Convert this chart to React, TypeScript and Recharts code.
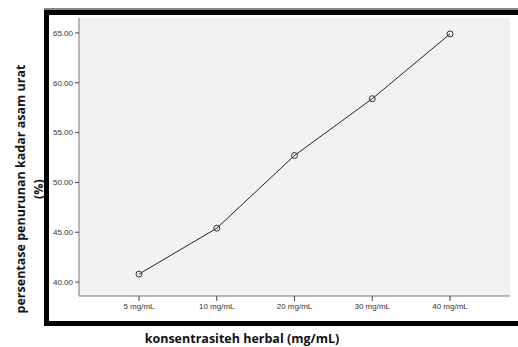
import React from 'react';
import { LineChart, Line, XAxis, YAxis, CartesianGrid, Label } from 'recharts';

const categories = ['5 mg/mL', '10 mg/mL', '20 mg/mL', '30 mg/mL', '40 mg/mL'];
const values = [40.8, 45.4, 52.7, 58.4, 64.9];
const yTicks = [40, 45, 50, 55, 60, 65];

const data = categories.map((c, i) => ({ name: c, value: values[i] }));

const tickStyle = { fontSize: 8, fill: '#333', fontFamily: '"Liberation Sans", Arial, sans-serif' };
const labelFont = '"Open Sans", Lato, sans-serif';

const YLabel = (props: any) => {
  const { viewBox } = props;
  const cy = viewBox.y + viewBox.height / 2 + 32;
  return (
    <g fontFamily={labelFont} fontWeight="bold" fontSize={12.5} fill="#111" textAnchor="middle">
      <text x={20} y={cy} transform={`rotate(-90 20 ${cy})`} dominantBaseline="central">
        persentase penurunan kadar asam urat
      </text>
      <text x={38} y={cy} transform={`rotate(-90 38 ${cy})`} dominantBaseline="central">
        (%)
      </text>
    </g>
  );
};

const XLabel = () => {
  return (
    <text x={242} y={338} textAnchor="middle" dominantBaseline="central"
      fontFamily={labelFont} fontWeight="bold" fontSize={12.5} fill="#111">
      konsentrasiteh herbal (mg/mL)
    </text>
  );
};

// thick black frame around the chart panel
const Frame = () => (
  <svg width={518} height={347} style={{ position: 'absolute', left: 0, top: 0, pointerEvents: 'none' }}>
    <rect x={44} y={8} width={474} height={2} fill="#888" />
    <rect x={44} y={10} width={474} height={5} fill="#000" />
    <rect x={44} y={10} width={5} height={316} fill="#000" />
    <rect x={44} y={321} width={474} height={5} fill="#000" />
  </svg>
);

const App = () => {
  return (
    <div style={{ position: 'absolute', left: 0, top: 0, width: 518, height: 347, background: '#fff' }}>
      <LineChart width={518} height={347} data={data} margin={{ top: 18, right: 8, left: 0, bottom: 0 }}>
        <CartesianGrid horizontal={false} vertical={false} fill="#f1f2f2" />
        <XAxis
          dataKey="name"
          scale="point"
          padding={{ left: 60, right: 60 }}
          height={51}
          tick={tickStyle}
          tickLine={{ stroke: '#444' }}
          tickSize={5}
          axisLine={{ stroke: '#777' }}
          interval={0}
        >
          <Label content={XLabel} />
        </XAxis>
        <XAxis xAxisId="top" dataKey="name" orientation="top" height={0} tick={false} tickLine={false} axisLine={{ stroke: '#777' }} />
        <YAxis
          width={79}
          domain={[38.6, 66.5]}
          ticks={yTicks}
          tickFormatter={(v: number) => v.toFixed(2)}
          tick={tickStyle}
          tickLine={{ stroke: '#444' }}
          tickSize={4}
          axisLine={{ stroke: '#777' }}
        >
          <Label content={YLabel} />
        </YAxis>
        <YAxis yAxisId="right" orientation="right" width={0} domain={[38.6, 66.5]} tick={false} tickLine={false} axisLine={{ stroke: '#777' }} />
        <Line
          type="linear"
          dataKey="value"
          stroke="#222"
          strokeWidth={1}
          dot={{ r: 3, stroke: '#333', strokeWidth: 1, fill: 'none' }}
          isAnimationActive={false}
        />
      </LineChart>
      <Frame />
    </div>
  );
};

export default App;
